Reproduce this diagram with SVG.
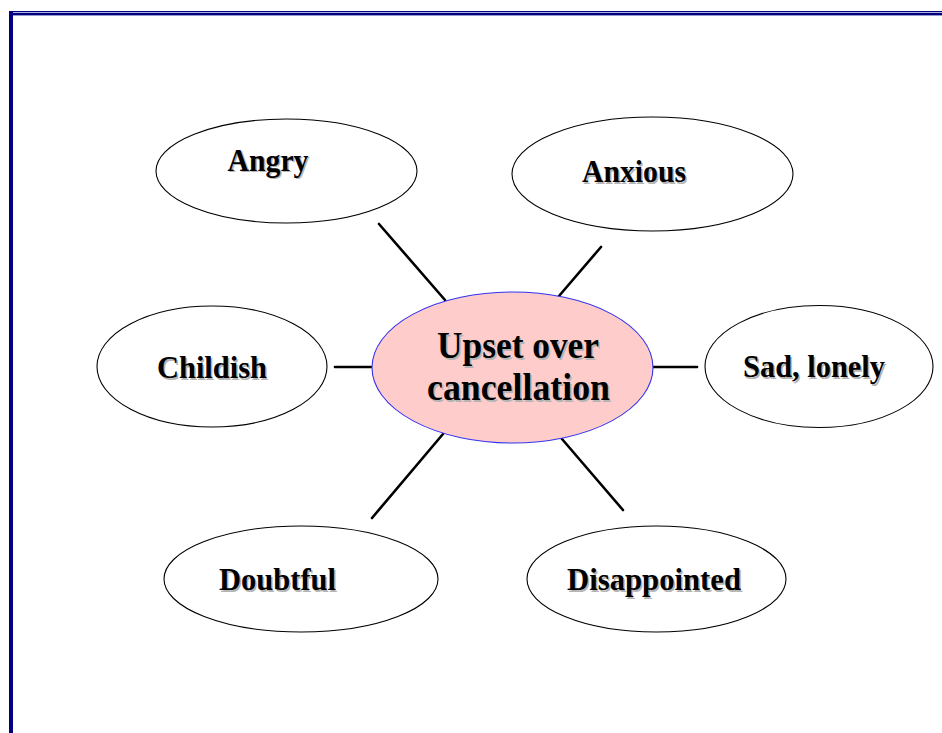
<svg xmlns="http://www.w3.org/2000/svg" width="942" height="733" viewBox="0 0 942 733">
<style>
.node{fill:#fff;stroke:#000;stroke-width:1.1}
.center{fill:#FFCCCC;stroke:#3333EE;stroke-width:1.1}
.t{font-family:"Liberation Serif","Times New Roman",serif;font-weight:bold;font-size:31px;fill:#000}
.sh{font-family:"Liberation Serif","Times New Roman",serif;font-weight:bold;font-size:31px;fill:#b4b4b4}
.big{font-size:37px}
.conn line{stroke:#000;stroke-width:2.6;stroke-linecap:round}
.frame{fill:#000080}
</style>
<rect width="942" height="733" fill="#fff"/>
<g id="frame">
<rect class="frame" x="9" y="11" width="933" height="1.3"/>
<rect class="frame" x="9" y="13" width="933" height="2.4"/>
<rect class="frame" x="9" y="11" width="4" height="722"/>
</g>
<g id="connectors" class="conn">
<line x1="379" y1="224" x2="445" y2="300"/>
<line x1="601" y1="247" x2="559" y2="296"/>
<line x1="335" y1="367" x2="371" y2="367"/>
<line x1="653" y1="367" x2="697" y2="367"/>
<line x1="443" y1="434" x2="372" y2="518"/>
<line x1="562" y1="439" x2="623" y2="510"/>
</g>
<g id="angry">
<ellipse class="node" cx="286.5" cy="171" rx="130.5" ry="52"/>
<text class="sh" x="229" y="172" textLength="81" lengthAdjust="spacingAndGlyphs">Angry</text>
<text class="t" x="227.5" y="170.5" textLength="81" lengthAdjust="spacingAndGlyphs">Angry</text>
</g>
<g id="anxious">
<ellipse class="node" cx="652.5" cy="174" rx="140.5" ry="57"/>
<text class="sh" x="583.5" y="183.5" textLength="104" lengthAdjust="spacingAndGlyphs">Anxious</text>
<text class="t" x="582" y="182" textLength="104" lengthAdjust="spacingAndGlyphs">Anxious</text>
</g>
<g id="childish">
<ellipse class="node" cx="212" cy="366.5" rx="115" ry="60.5"/>
<text class="sh" x="158.5" y="379.5" textLength="110" lengthAdjust="spacingAndGlyphs">Childish</text>
<text class="t" x="157" y="378" textLength="110" lengthAdjust="spacingAndGlyphs">Childish</text>
</g>
<g id="center">
<ellipse class="center" cx="512.5" cy="367.5" rx="140.5" ry="75.5"/>
<text class="sh big" x="438.5" y="359.5" textLength="162" lengthAdjust="spacingAndGlyphs">Upset over</text>
<text class="t big" x="437" y="358" textLength="162" lengthAdjust="spacingAndGlyphs">Upset over</text>
<text class="sh big" x="428.5" y="401.5" textLength="183" lengthAdjust="spacingAndGlyphs">cancellation</text>
<text class="t big" x="427" y="400" textLength="183" lengthAdjust="spacingAndGlyphs">cancellation</text>
</g>
<g id="sad">
<ellipse class="node" cx="819" cy="366.5" rx="114" ry="61"/>
<text class="sh" x="744.5" y="378.5" textLength="142" lengthAdjust="spacingAndGlyphs">Sad, lonely</text>
<text class="t" x="743" y="377" textLength="142" lengthAdjust="spacingAndGlyphs">Sad, lonely</text>
</g>
<g id="doubtful">
<ellipse class="node" cx="301" cy="579" rx="137" ry="53"/>
<text class="sh" x="220.5" y="591.5" textLength="117" lengthAdjust="spacingAndGlyphs">Doubtful</text>
<text class="t" x="219" y="590" textLength="117" lengthAdjust="spacingAndGlyphs">Doubtful</text>
</g>
<g id="disappointed">
<ellipse class="node" cx="656.5" cy="579" rx="129.5" ry="53"/>
<text class="sh" x="568.5" y="591.5" textLength="174" lengthAdjust="spacingAndGlyphs">Disappointed</text>
<text class="t" x="567" y="590" textLength="174" lengthAdjust="spacingAndGlyphs">Disappointed</text>
</g>
</svg>
